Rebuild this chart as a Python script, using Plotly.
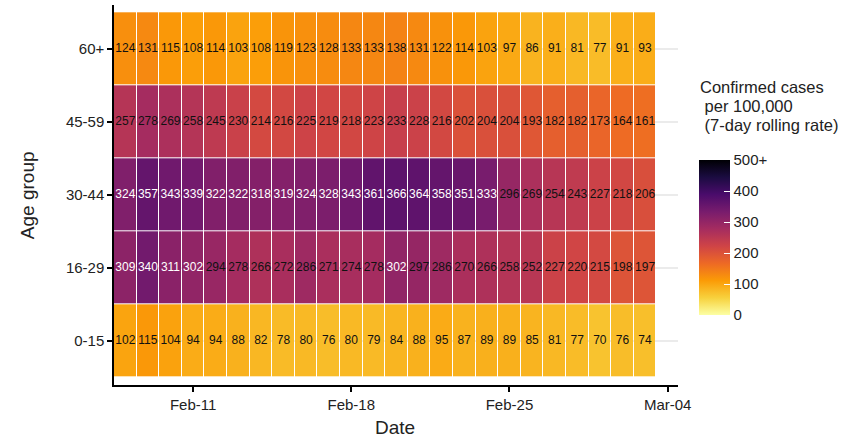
import plotly.graph_objects as go

dates = ["2021-02-08", "2021-02-09", "2021-02-10", "2021-02-11", "2021-02-12", "2021-02-13",
         "2021-02-14", "2021-02-15", "2021-02-16", "2021-02-17", "2021-02-18", "2021-02-19",
         "2021-02-20", "2021-02-21", "2021-02-22", "2021-02-23", "2021-02-24", "2021-02-25",
         "2021-02-26", "2021-02-27", "2021-02-28", "2021-03-01", "2021-03-02", "2021-03-03"]
age_groups = ["0-15", "16-29", "30-44", "45-59", "60+"]

rate_0_15 = [102, 115, 104, 94, 94, 88, 82, 78, 80, 76, 80, 79, 84, 88, 95, 87, 89, 89, 85, 81, 77, 70, 76, 74]
rate_16_29 = [309, 340, 311, 302, 294, 278, 266, 272, 286, 271, 274, 278, 302, 297, 286, 270, 266, 258, 252, 227, 220, 215, 198, 197]
rate_30_44 = [324, 357, 343, 339, 322, 322, 318, 319, 324, 328, 343, 361, 366, 364, 358, 351, 333, 296, 269, 254, 243, 227, 218, 206]
rate_45_59 = [257, 278, 269, 258, 245, 230, 214, 216, 225, 219, 218, 223, 233, 228, 216, 202, 204, 204, 193, 182, 182, 173, 164, 161]
rate_60p = [124, 131, 115, 108, 114, 103, 108, 119, 123, 128, 133, 133, 138, 131, 122, 114, 103, 97, 86, 91, 81, 77, 91, 93]

x_ticks = ["2021-02-11", "2021-02-18", "2021-02-25", "2021-03-04"]
x_tick_labels = ["Feb-11", "Feb-18", "Feb-25", "Mar-04"]
cbar_ticks = [0, 100, 200, 300, 400, 500]
cbar_tick_labels = ["0", "100", "200", "300", "400", "500+"]
legend_title_lines = ["Confirmed cases", "\u00a0per 100,000", "\u00a0(7-day rolling rate)"]

z = [rate_0_15, rate_16_29, rate_30_44, rate_45_59, rate_60p]

FONT = "Liberation Sans, Arial, sans-serif"

fig = go.Figure()
fig.add_trace(go.Heatmap(
    x=dates, y=age_groups, z=z,
    zmin=0, zmax=500,
    colorscale="Inferno", reversescale=True,
    xgap=1, ygap=1,
    hoverinfo="skip",
    colorbar=dict(
        tickvals=cbar_ticks, ticktext=cbar_tick_labels,
        thickness=31, lenmode="pixels", len=155,
        x=1.037, xanchor="left", y=0.388, yanchor="middle",
        outlinewidth=0, ticks="inside", tickcolor="white", ticklen=6,
        tickfont=dict(family=FONT, size=15, color="#222"),
        xpad=0, ypad=0,
    ),
))

tx, ty, tt, tc = [], [], [], []
for g, row in zip(age_groups, z):
    for d, v in zip(dates, row):
        tx.append(d)
        ty.append(g)
        tt.append(str(v))
        tc.append("white" if v > 300 else "#111")
fig.add_trace(go.Scatter(
    x=tx, y=ty, text=tt, mode="text",
    textfont=dict(family=FONT, size=12, color=tc),
    hoverinfo="skip", showlegend=False,
))

annotations = [
    dict(text="Age group", x=-0.154, y=0.5, xref="paper", yref="paper",
         xanchor="center", yanchor="middle", textangle=-90, showarrow=False,
         font=dict(family=FONT, size=19, color="#222")),
    dict(text="Date", x=0.499, y=-0.113, xref="paper", yref="paper",
         xanchor="center", yanchor="middle", showarrow=False,
         font=dict(family=FONT, size=19, color="#222")),
]
for i, line in enumerate(legend_title_lines):
    annotations.append(dict(
        text=line, x=1.035, y=(385 - (87 + 19 * i)) / 380, xref="paper", yref="paper",
        xanchor="left", yanchor="middle", align="left", showarrow=False,
        font=dict(family=FONT, size=16.5, color="#222")))

fig.update_layout(
    width=850, height=440,
    margin=dict(l=114, r=172, t=5, b=55),
    paper_bgcolor="white", plot_bgcolor="white",
    showlegend=False,
    font=dict(family=FONT, color="#222"),
    xaxis=dict(
        type="date",
        range=["2021-02-07 12:00", "2021-03-04 11:00"],
        tickvals=x_ticks, ticktext=x_tick_labels,
        showgrid=False, zeroline=False,
        showline=True, linecolor="black", linewidth=1.5,
        ticks="outside", ticklen=5, tickwidth=1.5, tickcolor="black",
        tickfont=dict(family=FONT, size=15, color="#222"),
    ),
    yaxis=dict(
        type="category", categoryorder="array", categoryarray=age_groups,
        range=[-0.6, 4.6],
        showgrid=True, gridcolor="#ebebeb", gridwidth=1.5, zeroline=False,
        showline=True, linecolor="black", linewidth=1.5,
        ticks="outside", ticklen=5, tickwidth=1.5, tickcolor="black",
        tickfont=dict(family=FONT, size=15, color="#222"),
    ),
    annotations=annotations,
)

fig.write_html("out.html", config={"displayModeBar": False},
               post_script="document.body.style.margin='0';document.body.style.padding='0';")
